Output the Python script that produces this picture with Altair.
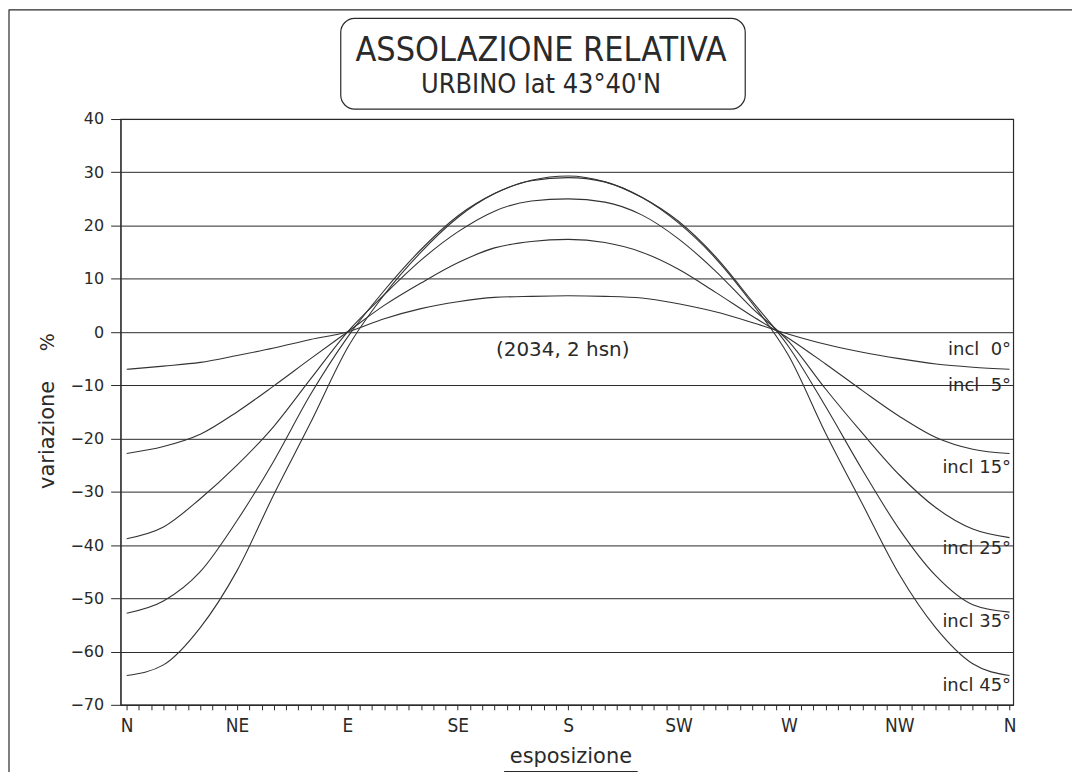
import json
import altair as alt
import pandas as pd

# ---- data ----
azimuth = [0, 15, 30, 45, 60, 75, 90, 105, 120, 135, 150, 165, 180,
           195, 210, 225, 240, 255, 270, 285, 300, 315, 330, 345, 360]
incl_5 = [-7.0, -6.4, -5.7, -4.4, -3.0, -1.4, 0.0, 2.5, 4.4, 5.7, 6.5, 6.7, 6.8,
          6.7, 6.4, 5.3, 3.8, 1.8, -0.4, -2.3, -3.8, -5.0, -6.0, -6.6, -7.0]
incl_15 = [-22.8, -21.5, -19.2, -15.0, -10.1, -5.0, 0.0, 5.0, 9.2, 13.0, 15.8, 17.0, 17.4,
           16.8, 15.0, 11.8, 7.5, 3.0, -1.2, -6.0, -11.0, -15.8, -19.8, -22.0, -22.8]
incl_25 = [-38.8, -36.6, -31.3, -25.0, -17.7, -8.8, 0.0, 7.0, 13.5, 18.8, 22.7, 24.6, 25.0,
           24.4, 22.0, 17.5, 11.5, 4.5, -1.8, -10.7, -19.0, -26.8, -33.0, -37.0, -38.6]
incl_35 = [-52.8, -50.5, -45.0, -35.4, -24.2, -11.7, -1.0, 7.8, 15.5, 21.8, 26.0, 28.4, 29.0,
           28.2, 25.3, 20.8, 14.2, 5.8, -2.8, -14.0, -25.9, -37.0, -45.8, -51.2, -52.6]
incl_45 = [-64.5, -62.5, -55.5, -44.8, -30.5, -17.0, -3.0, 7.0, 15.0, 21.5, 26.0, 28.5, 29.3,
           28.2, 25.3, 20.5, 13.9, 5.4, -4.5, -19.0, -32.3, -45.5, -55.6, -62.3, -64.5]

directions = ["N", "NE", "E", "SE", "S", "SW", "W", "NW", "N"]
x_ticks = list(range(0, 361, 5))
y_ticks = list(range(-70, 41, 10))

curve_labels = ["incl\u00a0\u00a00°", "incl\u00a0\u00a05°", "incl 15°", "incl 25°", "incl 35°", "incl 45°"]
curve_label_y = [-3.4, -10.2, -25.5, -40.8, -54.5, -66.5]

title_line1 = "ASSOLAZIONE RELATIVA"
title_line2 = "URBINO lat 43°40'N"
note = "(2034, 2 hsn)"

NARROW = "DejaVu Sans Condensed, Liberation Sans, sans-serif"
SANS = "DejaVu Sans"
INK = "#2a2a2a"

rows = []
for name, vals in [("5", incl_5), ("15", incl_15), ("25", incl_25), ("35", incl_35), ("45", incl_45)]:
    for a, v in zip(azimuth, vals):
        rows.append({"az": a, "val": v, "incl": name})
df = pd.DataFrame(rows)
labels_df = pd.DataFrame({"label": curve_labels, "y": curve_label_y, "x": [360.6] * len(curve_labels)})
note_df = pd.DataFrame({"label": [note], "x": [177.8], "y": [-3.3]})
one = pd.DataFrame({"a": [0]})

label_expr = ("datum.value % 45 === 0 ? " + json.dumps(directions) +
              "[round(datum.value / 45)] : ''")

x_scale = alt.Scale(domain=[-2.5, 361.5], nice=False, zero=False)
y_scale = alt.Scale(domain=[-70, 40], nice=False, zero=False)

x_axis = alt.Axis(values=x_ticks, labelExpr=label_expr, title=None, grid=False,
                  tickSize=5, tickColor=INK, domainColor=INK, labelColor=INK,
                  labelFont=NARROW, labelFontSize=19, labelPadding=7,
                  labelOverlap=False, labelFlush=False)
y_axis = alt.Axis(values=y_ticks, title=None, grid=True, gridColor=INK, gridWidth=1,
                  tickSize=10, tickColor=INK, domainColor=INK, labelColor=INK,
                  labelFont=SANS, labelFontSize=16, labelPadding=7)

X = lambda f: alt.X(f, scale=x_scale, axis=x_axis)
Y = lambda f: alt.Y(f, scale=y_scale, axis=y_axis)

lines = alt.Chart(df).mark_line(color="#333333", strokeWidth=1.1, interpolate="monotone").encode(
    x=X("az:Q"), y=Y("val:Q"), detail="incl:N",
)

lbls = alt.Chart(labels_df).mark_text(font=SANS, fontSize=18, align="right", baseline="middle",
                                      color=INK).encode(
    x=X("x:Q"), y=Y("y:Q"), text="label:N")

note_mark = alt.Chart(note_df).mark_text(font=SANS, fontSize=20, align="center",
                                         baseline="middle", color=INK).encode(
    x=X("x:Q"), y=Y("y:Q"), text="label:N")

title_box = alt.Chart(one).mark_rect(cornerRadius=14, fill="white", fillOpacity=0,
                                     stroke=INK, strokeWidth=1.2).encode(
    x=alt.value(221), x2=alt.value(627), y=alt.value(-101), y2=alt.value(-10))
t1 = alt.Chart(one).mark_text(text=title_line1, font=NARROW, fontSize=34, align="center",
                              baseline="alphabetic", color=INK).encode(
    x=alt.value(422), y=alt.value(-58))
t2 = alt.Chart(one).mark_text(text=title_line2, font=NARROW, fontSize=27, align="center",
                              baseline="alphabetic", color=INK).encode(
    x=alt.value(422), y=alt.value(-26))

ytitle = alt.Chart(one).mark_text(text="variazione", font=SANS, fontSize=21, angle=270,
                                  align="center", baseline="middle", color=INK).encode(
    x=alt.value(-73), y=alt.value(317))
ypct = alt.Chart(one).mark_text(text="%", font=SANS, fontSize=19, angle=270,
                                align="center", baseline="middle", color=INK).encode(
    x=alt.value(-73), y=alt.value(224))
xtitle = alt.Chart(one).mark_text(text="esposizione", font=SANS, fontSize=21,
                                  align="center", baseline="alphabetic", color=INK).encode(
    x=alt.value(452), y=alt.value(646))
xunder = alt.Chart(one).mark_rule(color=INK, strokeWidth=1.2).encode(
    x=alt.value(385), x2=alt.value(519), y=alt.value(655))

frame_left = alt.Chart(one).mark_rule(color=INK, strokeWidth=1.2).encode(
    x=alt.value(-112), y=alt.value(-110), y2=alt.value(660))
frame_top = alt.Chart(one).mark_rule(color=INK, strokeWidth=1.2).encode(
    x=alt.value(-112), x2=alt.value(955), y=alt.value(-109.5))

chart = alt.layer(
    lines, lbls, note_mark, title_box, t1, t2, ytitle, ypct, xtitle, xunder, frame_left, frame_top
).properties(
    width=896, height=588,
    padding={"left": 113, "top": 110, "right": 60, "bottom": 66},
    autosize=alt.AutoSizeParams(type="none"),
    background="white",
).configure_view(stroke=INK, strokeWidth=1.2)

chart.save("out.html", embed_options={"renderer": "svg", "actions": False})
